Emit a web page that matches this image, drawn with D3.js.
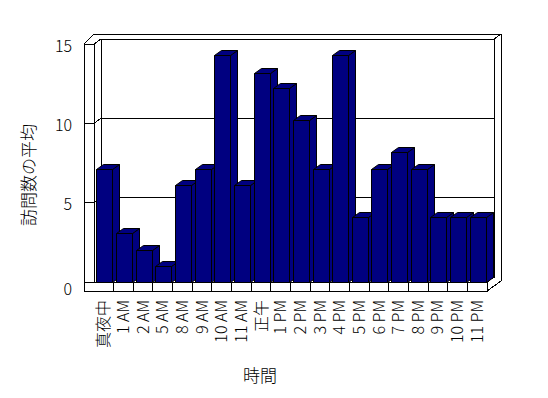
<!DOCTYPE html>
<html>
<head>
<meta charset="utf-8">
<script src="https://cdn.jsdelivr.net/npm/d3@7"></script>
<style>
  body { margin: 0; background: #fff; -webkit-font-smoothing: antialiased; }
  svg { display: block; }
  text { font-family: "Noto Sans CJK JP", "Noto Sans", sans-serif; fill: #000; }
</style>
</head>
<body>
<svg id="chart" width="548" height="398"></svg>
<script>
// data
var hours = ["真夜中", "1 AM", "2 AM", "5 AM", "8 AM", "9 AM", "10 AM", "11 AM", "正午",
  "1 PM", "2 PM", "3 PM", "4 PM", "5 PM", "6 PM", "7 PM", "8 PM", "9 PM", "10 PM", "11 PM"];
var visits = [7.1, 3.1, 2.0, 1.0, 6.1, 7.1, 14.3, 6.1, 13.2,
  12.2, 10.2, 7.1, 14.3, 4.1, 7.1, 8.2, 7.1, 4.1, 4.1, 4.1];
var yTicks = [0, 5, 10, 15];
var yTitle = "訪問数の平均";
var xTitle = "時間";

var svg = d3.select("#chart");

// front plane of the plot
var pLeft = 94, pRight = 487, pTop = 44, pBottom = 282;
var wall = 10;      // left wall thickness
var floorH = 9;     // floor thickness
var dx = 7, dy = -5; // depth offset

var x = d3.scaleBand().domain(hours).range([pLeft, pRight]);
var y = d3.scaleLinear().domain([0, 15]).range([pBottom, pTop]);

var line = function(pts) { return "M" + pts.map(function(p) { return p.join(","); }).join("L"); };

var frame = svg.append("g")
  .attr("fill", "#fff")
  .attr("stroke", "#000")
  .attr("stroke-width", 1)
  .attr("shape-rendering", "crispEdges");

// outer shell
frame.append("path")
  .attr("d", line([[pLeft - wall, pTop], [pLeft, pTop + 2 * dy], [pRight + 2 * dx, pTop + 2 * dy],
    [pRight + 2 * dx, pBottom + floorH + 2 * dy], [pRight, pBottom + floorH], [pLeft - wall, pBottom + floorH]]) + "Z");

// back wall inner surface
frame.append("rect")
  .attr("x", pLeft + dx).attr("y", pTop + dy)
  .attr("width", pRight - pLeft).attr("height", pBottom - pTop);

// left wall front face, inner top edge
frame.append("path")
  .attr("fill", "none")
  .attr("d", line([[pLeft - wall, pTop], [pLeft, pTop], [pLeft, pBottom]]) + line([[pLeft, pTop], [pLeft + dx, pTop + dy]]));

// top-right corner of back wall
frame.append("path")
  .attr("fill", "none")
  .attr("d", line([[pRight + dx, pTop + dy], [pRight + 2 * dx, pTop + 2 * dy]]));

// floor front face and right face
frame.append("rect")
  .attr("x", pLeft - wall).attr("y", pBottom)
  .attr("width", pRight - pLeft + wall).attr("height", floorH);
frame.append("path")
  .attr("fill", "none")
  .attr("d", line([[pRight, pBottom], [pRight + dx, pBottom + dy]]));

// category dividers on the floor
frame.selectAll("line.div")
  .data(hours.slice(1))
  .enter().append("line")
    .attr("class", "div")
    .attr("x1", function(d) { return x(d); })
    .attr("x2", function(d) { return x(d); })
    .attr("y1", pBottom).attr("y2", pBottom + floorH);

// gridlines: tick on the wall face, diagonal on inner wall, line on back wall
var grid = yTicks.filter(function(t) { return t > 0 && t < 15; });
frame.selectAll("path.grid")
  .data(grid)
  .enter().append("path")
    .attr("class", "grid")
    .attr("fill", "none")
    .attr("d", function(t) {
      var yy = y(t);
      return line([[pLeft - wall, yy], [pLeft, yy], [pLeft + dx, yy + dy], [pRight + dx, yy + dy]]);
    });

// bars, drawn left to right so each covers the side of the one before
var bw = x.bandwidth();
var bars = svg.append("g")
  .attr("fill", "#000080")
  .attr("stroke", "#000")
  .attr("stroke-width", 1)
  .attr("stroke-linejoin", "round");

hours.forEach(function(h, i) {
  var x0 = Math.round(x(h) + bw * 0.12) + 0.5;
  var x1 = x0 + Math.round(bw * 0.82);
  var yt = Math.round(y(visits[i])) + 0.5;
  var yb = pBottom + 0.5;
  var g = bars.append("g");
  g.append("path").attr("d", line([[x1, yt], [x1 + dx, yt + dy], [x1 + dx, yb + dy], [x1, yb]]) + "Z");
  g.append("path").attr("d", line([[x0, yt], [x0 + dx, yt + dy], [x1 + dx, yt + dy], [x1, yt]]) + "Z");
  g.append("rect").attr("x", x0).attr("y", yt).attr("width", x1 - x0).attr("height", yb - yt);
});

// y axis labels
var yAxis = svg.append("g")
  .attr("transform", "translate(" + (pLeft - wall - 12) + ",0)")
  .call(d3.axisLeft(y).tickValues(yTicks).tickSize(0).tickPadding(0));
yAxis.select(".domain").remove();
yAxis.selectAll("text")
  .attr("font-size", 16)
  .attr("font-weight", 300)
  .attr("font-family", null)
  .attr("fill", "#000")
  .attr("dy", function(d) { return d === 0 ? "0.8em" : "0.45em"; });

// x axis labels, vertical
svg.append("g")
  .selectAll("text")
  .data(hours)
  .enter().append("text")
    .attr("transform", function(d) {
      return "translate(" + (x(d) + bw / 2) + "," + (pBottom + floorH + 9) + ") rotate(-90)";
    })
    .attr("text-anchor", "end")
    .attr("dy", "0.35em")
    .attr("font-size", 16)
    .attr("font-weight", 300)
    .attr("fill", "#000")
    .text(function(d) { return d; });

// titles
svg.append("text")
  .attr("transform", "translate(29," + ((pTop + pBottom) / 2 + 12) + ") rotate(-90)")
  .attr("text-anchor", "middle")
  .attr("dy", "0.35em")
  .attr("font-size", 17)
  .attr("font-weight", 300)
  .text(yTitle);

svg.append("text")
  .attr("x", 260).attr("y", 376)
  .attr("text-anchor", "middle")
  .attr("dy", "0.35em")
  .attr("font-size", 17)
  .attr("font-weight", 300)
  .text(xTitle);
</script>
</body>
</html>
